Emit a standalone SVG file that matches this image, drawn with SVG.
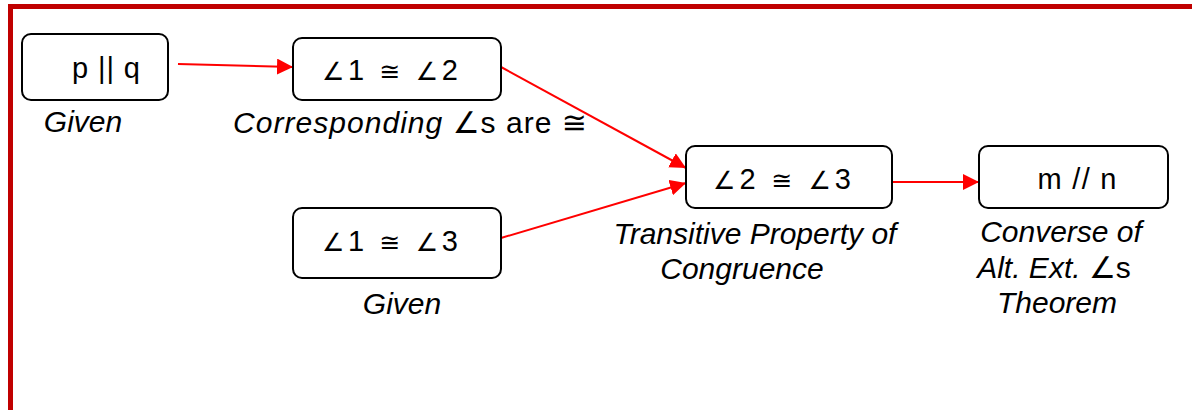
<svg xmlns="http://www.w3.org/2000/svg" width="1192" height="410" viewBox="0 0 1192 410">
<style>
.box{fill:#fff;stroke:#000;stroke-width:2}
.bt{font-family:"Liberation Sans","DejaVu Sans",sans-serif;font-size:29px;fill:#000;text-anchor:middle}
.sy{font-size:25px}
.lb{font-family:"Liberation Sans","DejaVu Sans",sans-serif;font-size:30px;font-style:italic;fill:#000;text-anchor:middle}
.up{font-style:normal}
.con{stroke:#f00;stroke-width:2;fill:none;marker-end:url(#ah)}
</style>
<defs>
<marker id="ah" markerUnits="userSpaceOnUse" markerWidth="18" markerHeight="16" refX="16" refY="8" orient="auto">
<path d="M0,0 L16,8 L0,16 Z" fill="#f00"/>
</marker>
</defs>
<rect width="1192" height="410" fill="#fff"/>
<g id="frame" fill="#c00000">
<rect x="8" y="4" width="1184" height="5"/>
<rect x="8" y="4" width="5" height="406"/>
</g>
<g id="connectors">
<line class="con" x1="178" y1="64" x2="293" y2="67"/>
<line class="con" x1="501" y1="67" x2="686" y2="168"/>
<line class="con" x1="501" y1="238" x2="686" y2="183"/>
<line class="con" x1="892" y1="182" x2="979" y2="182"/>
</g>
<g id="n1">
<rect class="box" x="22" y="34" width="146" height="66" rx="9"/>
<text class="bt" x="106" y="78" textLength="68">p || q</text>
<text class="lb" x="83" y="132">Given</text>
</g>
<g id="n2">
<rect class="box" x="293" y="38" width="208" height="62" rx="9"/>
<text class="bt" x="390" y="80" textLength="136"><tspan class="sy">∠</tspan>1 <tspan class="sy">≅</tspan> <tspan class="sy">∠</tspan>2</text>
<text class="lb" x="233" y="133" style="text-anchor:start" textLength="354">Corresponding <tspan class="up">∠s are ≅</tspan></text>
</g>
<g id="n3">
<rect class="box" x="293" y="208" width="208" height="70" rx="9"/>
<text class="bt" x="390" y="251" textLength="136"><tspan class="sy">∠</tspan>1 <tspan class="sy">≅</tspan> <tspan class="sy">∠</tspan>3</text>
<text class="lb" x="402" y="314">Given</text>
</g>
<g id="n4">
<rect class="box" x="686" y="146" width="206" height="62" rx="9"/>
<text class="bt" x="782" y="189" textLength="138"><tspan class="sy">∠</tspan>2 <tspan class="sy">≅</tspan> <tspan class="sy">∠</tspan>3</text>
<text class="lb" x="755" y="244">Transitive Property of</text>
<text class="lb" x="742" y="279">Congruence</text>
</g>
<g id="n5">
<rect class="box" x="979" y="146" width="189" height="62" rx="9"/>
<text class="bt" x="1077" y="189" textLength="79">m // n</text>
<text class="lb" x="1061" y="242">Converse of</text>
<text class="lb" x="1054" y="278">Alt. Ext. <tspan class="up">∠s</tspan></text>
<text class="lb" x="1057" y="313">Theorem</text>
</g>
</svg>
